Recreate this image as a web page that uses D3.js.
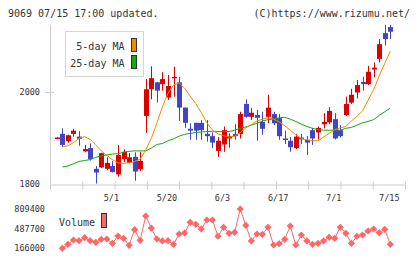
<!DOCTYPE html>
<html>
<head>
<meta charset="utf-8">
<script src="https://cdn.jsdelivr.net/npm/d3@7"></script>
<style>
body { margin: 0; background: #fff; }
text { font-family: "DejaVu Sans Mono", monospace; fill: #333; }
</style>
</head>
<body>
<div id="chart"></div>
<script>
// daily candles, oldest first (index 0 = first shown day)
var opens  = [1901,1909,1893,1909,1903,1871,1878,1833,1836,1833,1839,1821,1854,1846,1859,1832,1948,2006,2021,2017,
              1988,2030,2021,1966,1920,1933,1933,1909,1904,1872,1886,1899,1909,1909,1974,1946,1950,1935,1946,1952,
              1943,1899,1894,1878,1901,1896,1917,1912,1930,1934,1941,1917,1950,1977,1999,2022,2017,2049,2072,2128,2141];
var highs  = [1902,1921,1907,1920,1915,1885,1888,1839,1868,1858,1850,1885,1875,1867,1869,1870,2028,2056,2022,2043,
              2037,2055,2033,1966,1932,1933,1939,1939,1912,1902,1925,1910,1930,1957,1984,1965,1961,1957,1994,1957,
              1952,1916,1902,1909,1909,1904,1922,1925,1954,1967,1954,1928,1990,2007,2026,2033,2057,2064,2115,2146,2146];
var lows   = [1900,1880,1890,1903,1883,1869,1851,1801,1835,1830,1825,1816,1848,1845,1807,1828,1911,1984,1977,2003,
              1983,1990,1937,1922,1896,1896,1896,1892,1878,1859,1870,1879,1896,1899,1944,1939,1894,1907,1932,1928,
              1896,1887,1870,1876,1887,1863,1885,1897,1921,1930,1897,1901,1948,1974,1986,2003,2015,2032,2064,2101,2115];
var closes = [1901,1885,1906,1916,1898,1876,1854,1825,1867,1846,1826,1863,1870,1858,1827,1850,2006,2030,2003,2028,
              2013,2033,1966,1933,1916,1916,1917,1904,1890,1894,1917,1904,1904,1952,1946,1955,1944,1920,1966,1932,
              1904,1896,1880,1903,1897,1890,1899,1922,1935,1959,1899,1904,1974,1994,2015,2017,2044,2053,2104,2115,2131];

var ma5  = [null,1881,1883,1890,1899,1903,1897,1885,1872,1862,1853,1846,1845,1846,1849,1854,1874,1899,1932,1968,
            1997,2015,2020,2008,1991,1975,1955,1933,1917,1909,1905,1902,1904,1912,1922,1929,1937,1941,1944,1941,
            1935,1927,1917,1907,1899,1896,1894,1894,1902,1910,1918,1922,1925,1937,1947,1959,1982,2005,2035,2062,2089];
var ma25 = [null,1837,1839,1844,1849,1851,1853,1858,1861,1863,1865,1866,1869,1871,1872,1872,1872,1878,1886,1888,
            1894,1898,1904,1908,1910,1912,1913,1914,1914,1914,1914,1914,1917,1921,1924,1928,1932,1937,1940,1941,
            1944,1945,1941,1936,1930,1925,1921,1918,1917,1917,1917,1917,1921,1923,1928,1933,1936,1940,1949,1957,1965];

var volumes = [null,166000,231000,302000,290000,340000,290000,264000,313000,318000,248000,367000,330000,215000,470000,297000,
               695000,498000,318000,286000,290000,231000,400000,417000,592000,559000,482000,629000,629000,363000,510000,
               412000,428000,809400,543000,286000,400000,395000,510000,220000,241000,313000,531000,220000,384000,286000,
               231000,248000,286000,346000,330000,510000,412000,248000,363000,384000,449000,482000,421000,477000,231000];

var xTickDays   = [10, 20, 30, 40, 50, 60];
var xTickLabels = ["5/1", "5/20", "6/3", "6/17", "7/1", "7/15"];
var priceTicks  = [1800, 2000];
var volumeTicks = [166000, 487700, 809400];

var upColor = "#dd0000";
var downColor = "#4343c8";

var svg, x, y, yVol;

function drawChart() {
    svg = d3.select("#chart")
        .append("svg")
        .attr("width", 420)
        .attr("height", 259);

    x = d3.scaleLinear()
        .domain([0, opens.length - 1])
        .range([56.8, 390.3]);

    y = d3.scaleLinear()
        .domain([1800, 2000])
        .range([184, 92]);

    yVol = d3.scaleLinear()
        .domain([166000, 809400])
        .range([248.3, 209]);

    // header
    svg.append("text")
        .attr("x", 8).attr("y", 16.5)
        .style("font-size", "10px")
        .text("9069 07/15 17:00 updated.");
    svg.append("text")
        .attr("x", 410).attr("y", 16.5)
        .attr("text-anchor", "end")
        .style("font-size", "10px")
        .text("(C)https://www.rizumu.net/");

    // frame: left line and bottom axis with even grid ticks
    svg.append("line")
        .attr("x1", 50.5).attr("x2", 50.5)
        .attr("y1", 25).attr("y2", 184)
        .attr("stroke", "#cccccc");

    var frame = d3.scaleLinear().domain([0, 11]).range([50, 405]);
    var bottom = svg.append("g")
        .attr("transform", "translate(0,184.5)")
        .call(d3.axisBottom(frame)
            .tickValues(d3.range(12))
            .tickSize(5)
            .tickSizeOuter(0)
            .tickFormat(""));
    bottom.select(".domain").attr("stroke", "#cccccc");
    bottom.selectAll(".tick line")
        .attr("stroke", "#cccccc")
        .attr("y1", -3);

    // price tick at 2000
    svg.selectAll("line.ptick")
        .data(priceTicks.filter(function (d) { return d !== 1800; }))
        .enter().append("line")
        .attr("class", "ptick")
        .attr("x1", 45).attr("x2", 54)
        .attr("y1", function (d) { return Math.round(y(d)) + 0.5; })
        .attr("y2", function (d) { return Math.round(y(d)) + 0.5; })
        .attr("stroke", "#cccccc");

    svg.selectAll("text.plabel")
        .data(priceTicks)
        .enter().append("text")
        .attr("class", "plabel")
        .attr("x", 40)
        .attr("y", function (d) { return y(d) + 3; })
        .attr("text-anchor", "end")
        .style("font-size", "8.5px")
        .text(function (d) { return d; });

    svg.selectAll("text.xlabel")
        .data(xTickDays)
        .enter().append("text")
        .attr("class", "xlabel")
        .attr("x", function (d) { return x(d) - 1; })
        .attr("y", 201)
        .attr("text-anchor", "middle")
        .style("font-size", "8.5px")
        .text(function (d, i) { return xTickLabels[i]; });

    drawCandles();
    drawAverages();
    drawLegend();
    drawVolume();
}

function drawCandles() {
    var idx = d3.range(opens.length);
    var color = function (i) { return closes[i] >= opens[i] ? upColor : downColor; };

    svg.selectAll("line.wick")
        .data(idx)
        .enter().append("line")
        .attr("class", "wick")
        .attr("x1", function (i) { return Math.round(x(i)) + 0.5; })
        .attr("x2", function (i) { return Math.round(x(i)) + 0.5; })
        .attr("y1", function (i) { return y(highs[i]); })
        .attr("y2", function (i) { return y(lows[i]); })
        .attr("stroke", color);

    svg.selectAll("rect.body")
        .data(idx)
        .enter().append("rect")
        .attr("class", "body")
        .attr("x", function (i) { return Math.round(x(i)) - 2; })
        .attr("width", 5)
        .attr("y", function (i) { return y(Math.max(opens[i], closes[i])); })
        .attr("height", function (i) { return Math.max(1.5, Math.abs(y(opens[i]) - y(closes[i]))); })
        .attr("fill", color);
}

function drawAverages() {
    var line = d3.line()
        .defined(function (d) { return d !== null; })
        .x(function (d, i) { return x(i); })
        .y(function (d) { return y(d); });

    svg.append("path")
        .datum(ma25)
        .attr("d", line)
        .attr("fill", "none")
        .attr("stroke", "#11aa11")
        .attr("stroke-width", 1);

    svg.append("path")
        .datum(ma5)
        .attr("d", line)
        .attr("fill", "none")
        .attr("stroke", "#f08a00")
        .attr("stroke-width", 1);
}

function drawLegend() {
    var g = svg.append("g");
    g.append("rect")
        .attr("x", 65.5).attr("y", 31.5)
        .attr("width", 78).attr("height", 45)
        .attr("fill", "#fff")
        .attr("stroke", "#d4d4d4");

    var names = ["5-day MA", "25-day MA"];
    var colors = ["#f08a00", "#11aa11"];
    g.selectAll("text.leg")
        .data(names)
        .enter().append("text")
        .attr("class", "leg")
        .attr("x", 124.5)
        .attr("y", function (d, i) { return 49.5 + i * 17; })
        .attr("text-anchor", "end")
        .style("font-size", "10px")
        .text(function (d) { return d; });
    g.selectAll("rect.sw")
        .data(colors)
        .enter().append("rect")
        .attr("class", "sw")
        .attr("x", 131.5)
        .attr("y", function (d, i) { return 38.5 + i * 17; })
        .attr("width", 5).attr("height", 13)
        .attr("fill", function (d) { return d; })
        .attr("stroke", "#333");
}

function drawVolume() {
    svg.selectAll("text.vlabel")
        .data(volumeTicks)
        .enter().append("text")
        .attr("class", "vlabel")
        .attr("x", 45)
        .attr("y", function (d) { return yVol(d) + 3; })
        .attr("text-anchor", "end")
        .style("font-size", "8.5px")
        .text(function (d) { return d; });

    svg.append("text")
        .attr("x", 59).attr("y", 225.5)
        .style("font-size", "10px")
        .text("Volume");
    svg.append("rect")
        .attr("x", 101.5).attr("y", 213.5)
        .attr("width", 5).attr("height", 14)
        .attr("fill", "#ff6666")
        .attr("stroke", "#333");

    var line = d3.line()
        .defined(function (d) { return d !== null; })
        .x(function (d, i) { return x(i); })
        .y(function (d) { return yVol(d); });

    svg.append("path")
        .datum(volumes)
        .attr("d", line)
        .attr("fill", "none")
        .attr("stroke", "#ff6666")
        .attr("stroke-width", 1);

    var pts = volumes.map(function (v, i) { return {i: i, v: v}; })
        .filter(function (d) { return d.v !== null; });

    svg.selectAll("path.dot")
        .data(pts)
        .enter().append("path")
        .attr("class", "dot")
        .attr("d", d3.symbol(d3.symbolSquare, 26))
        .attr("transform", function (d) {
            return "translate(" + x(d.i) + "," + yVol(d.v) + ") rotate(45)";
        })
        .attr("fill", "#ff6666");
}

drawChart();
</script>
</body>
</html>
